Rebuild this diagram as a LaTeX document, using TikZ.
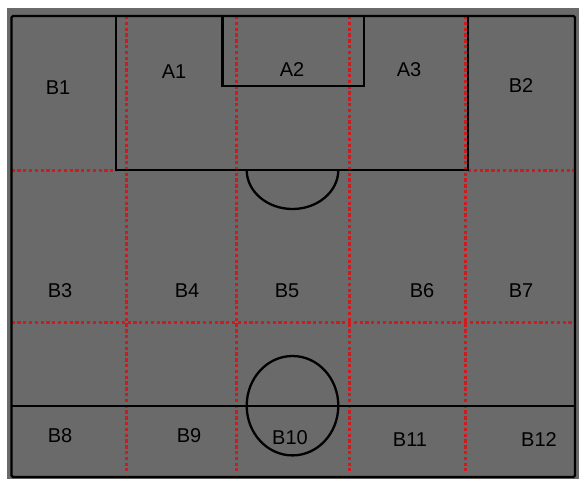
\documentclass[tikz,border=0pt]{standalone}
\usepackage{fontspec}
\setmainfont{Liberation Sans}
\definecolor{pitch}{RGB}{106,106,106}
\definecolor{zonered}{RGB}{205,28,32}
\tikzset{
  line/.style={draw=black, line width=2.3pt},
  zone/.style={draw=zonered, line width=3pt, dash pattern=on 3.3pt off 2.5pt},
  lbl/.style={font=\fontsize{20}{20}\selectfont, text=black, inner sep=0pt}
}
\begin{document}
\begin{tikzpicture}[x=1pt,y=-1pt]
\useasboundingbox (0,0) rectangle (579,479);
\fill[white] (0,0) rectangle (579,479);
\fill[pitch] (7,8) rectangle (579,479);
% red zone lines
\coordinate (v1t) at (126.7,16); \coordinate (v1b) at (126.7,471);
\coordinate (v2t) at (236.7,16); \coordinate (v2b) at (236.7,471);
\coordinate (v3t) at (349.7,16); \coordinate (v3b) at (349.7,471);
\coordinate (v4t) at (465.3,16); \coordinate (v4b) at (465.3,471);
\draw[zone] (v1t) -- (v1b);
\draw[zone] (v2t) -- (v2b);
\draw[zone] (v3t) -- (v3b);
\draw[zone] (v4t) -- (v4b);
\draw[zone] (11.5,170) -- (116,170);
\draw[zone] (468,170) -- (575,170);
\draw[zone] (11.5,322.3) -- (575,322.3);
% black pitch lines
\draw[line, rounded corners=1.5pt] (11.5,16) rectangle (575,477);
\draw[line] (116,16) -- (116,170) -- (468,170) -- (468,16);
\draw[line] (222.5,16) -- (222.5,85.7) -- (363.7,85.7) -- (363.7,16);
\draw[line] (246.7,170) arc[start angle=180, end angle=360, x radius=45.8, y radius=-39];
\draw[line] (11.5,405.7) -- (575,405.7);
\draw[line] (292.5,405.7) ellipse[x radius=45.8, y radius=49.7];
% labels
\node[lbl] (B1) at (58,88) {B1};
\node[lbl] (A1) at (174,72) {A1};
\node[lbl] (A2) at (292,70) {A2};
\node[lbl] (A3) at (409,70) {A3};
\node[lbl] (B2) at (521,86) {B2};
\node[lbl] (B3) at (60,291) {B3};
\node[lbl] (B4) at (187,291) {B4};
\node[lbl] (B5) at (287,291) {B5};
\node[lbl] (B6) at (422,291) {B6};
\node[lbl] (B7) at (521,291) {B7};
\node[lbl] (B8) at (60,436) {B8};
\node[lbl] (B9) at (189,436) {B9};
\node[lbl] (B10) at (290,438) {B10};
\node[lbl] (B11) at (410,440) {B11};
\node[lbl] (B12) at (539,440) {B12};
\end{tikzpicture}
\end{document}
